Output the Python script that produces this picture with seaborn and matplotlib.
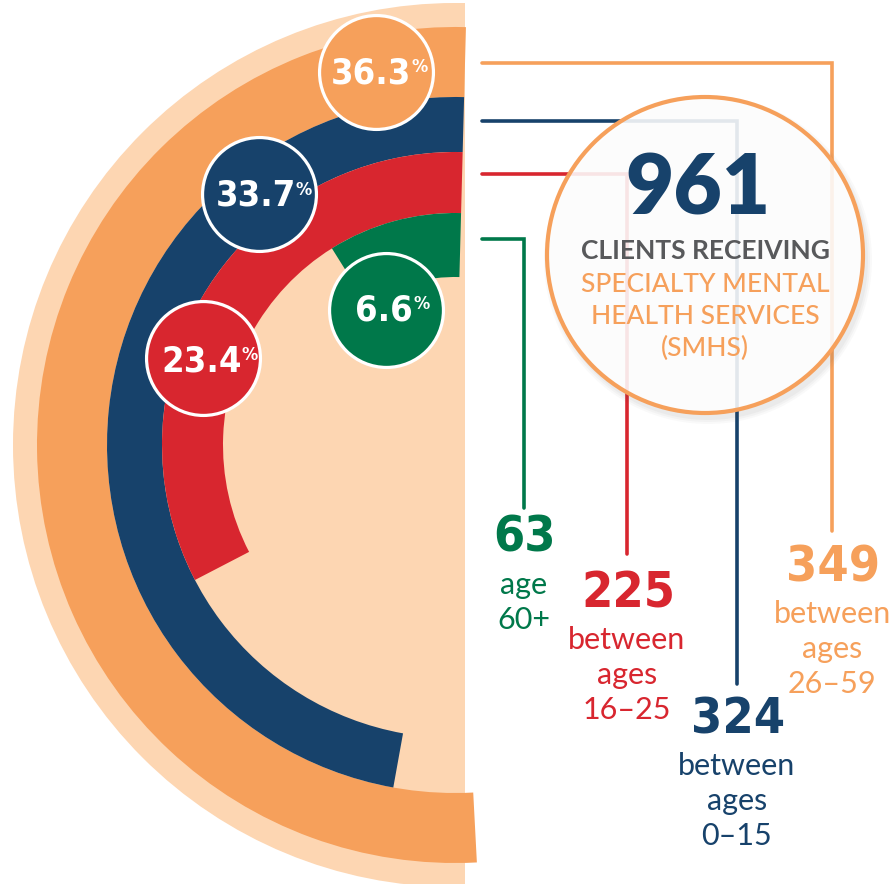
import numpy as np
import matplotlib.pyplot as plt
import seaborn as sns
from matplotlib import font_manager
from matplotlib.patches import Circle, Wedge, Rectangle

# data
percents = [36.3, 33.7, 23.4, 6.6]
counts = [349, 324, 225, 63]
age_text = [['between', 'ages', '26–59'],
            ['between', 'ages', '0–15'],
            ['between', 'ages', '16–25'],
            ['age', '60+']]
total = 961
center_lines = ['CLIENTS RECEIVING', 'SPECIALTY MENTAL', 'HEALTH SERVICES', '(SMHS)']

colors = ['#F6A05B', '#17426B', '#D8262F', '#00784A']
peach = '#FDD6B2'

sns.set_theme(style='white')
plt.rcParams['font.family'] = ['Lato', 'DejaVu Sans']

# pick a condensed bold face for the numbers if one is installed
num_font, num_stretch = ['Liberation Sans', 'DejaVu Sans'], 'normal'
for f in font_manager.fontManager.ttflist:
    if f.name == 'Liberation Sans Narrow':
        num_font, num_stretch = ['Liberation Sans Narrow', 'DejaVu Sans'], 'normal'
        break
    if f.name == 'DejaVu Sans' and f.stretch == 'condensed' and f.weight == 700:
        num_font, num_stretch = ['DejaVu Sans'], 'condensed'

W, H = 894, 884
cx, cy, R = 455, 445, 445

fig = plt.figure(figsize=(W / 100, H / 100), dpi=100)

# background half disc (pixel coordinates)
bg = fig.add_axes([0, 0, 1, 1])
bg.set_xlim(0, W)
bg.set_ylim(H, 0)
bg.set_axis_off()
bg.add_patch(Wedge((cx, cy), 442, 90, 270, facecolor=peach, edgecolor='none'))
bg.add_patch(Rectangle((cx, cy - 442), 10, H, facecolor=peach, edgecolor='none'))

# radial bars on a polar axes, center at pixel (cx, cy)
pax = fig.add_axes([(cx - R) / W, (H - cy - R) / H, 2 * R / W, 2 * R / H], projection='polar')
pax.set_theta_zero_location('N')
pax.set_theta_direction(1)
pax.set_ylim(0, R)
pax.set_axis_off()

ring_in = [348, 293, 232, 168]
ring_out = [418, 348, 293, 232]
start = np.deg2rad(-1.5)
span = np.deg2rad(184.5) / max(percents)

for p, c, r0, r1 in zip(percents, colors, ring_in, ring_out):
    pax.bar(start, r1 - r0, width=p * span, bottom=r0, align='edge', color=c, linewidth=0)

# percent badges
badge_pos = [(12, 381), (38, 319), (71, 267), (27, 152)]
for p, c, (th, r) in zip(percents, colors, badge_pos):
    pax.scatter(np.deg2rad(th), r, s=6724, color=c, edgecolor='white', linewidth=2.3, zorder=5)
    t = pax.text(np.deg2rad(th) + 0.012, r, f'{p:.1f}', color='white', fontsize=26, fontweight='bold',
                 family=num_font, fontstretch=num_stretch, ha='center', va='center', zorder=6)
    pax.annotate('%', xy=(1.0, 0.95), xycoords=t, color='white', fontsize=13, fontweight='bold',
                 family=num_font, fontstretch=num_stretch, ha='left', va='top', zorder=6)

# overlay in pixel coordinates
ax = fig.add_axes([0, 0, 1, 1])
ax.set_xlim(0, W)
ax.set_ylim(H, 0)
ax.set_axis_off()

line_y = [63, 121, 174, 239]
drop_x = [832, 737, 627, 524]
drop_end = [531, 684, 554, 508]
for c, y, x, y2 in zip(colors, line_y, drop_x, drop_end):
    ax.plot([482, x, x], [y, y, y2], color=c, lw=2.6, solid_joinstyle='miter')

# big centre circle
for i, a in enumerate([0.05, 0.04, 0.03]):
    ax.add_patch(Circle((708, 260), 160 + 2 * i, facecolor='#555555', alpha=a, edgecolor='none', zorder=3))
ax.add_patch(Circle((705, 255), 158, facecolor=(1, 1, 1, 0.88), edgecolor=colors[0], lw=3, zorder=4))
ax.text(698, 190, str(total), color=colors[1], fontsize=60, fontweight='heavy',
        ha='center', va='center', zorder=5)
ax.text(705, 251, center_lines[0], color='#58595B', fontsize=19, fontweight='bold',
        ha='center', va='center', zorder=5)
for i, s in enumerate(center_lines[1:]):
    ax.text(705, 284 + 32 * i, s, color=colors[0], fontsize=19, fontweight='medium',
            ha='center', va='center', zorder=5)

# count labels under the leader lines
label_y = [567, 719, 593, 538]
for c, n, lines, x, y in zip(colors, counts, age_text, drop_x, label_y):
    ax.text(x + 1, y, str(n), color=c, fontsize=36, fontweight='bold', family=num_font,
            fontstretch=num_stretch, ha='center', va='center')
    for i, s in enumerate(lines):
        ax.text(x, y + 47 + 35 * i, s, color=c, fontsize=22, ha='center', va='center')

plt.savefig('out.png', dpi=100)
